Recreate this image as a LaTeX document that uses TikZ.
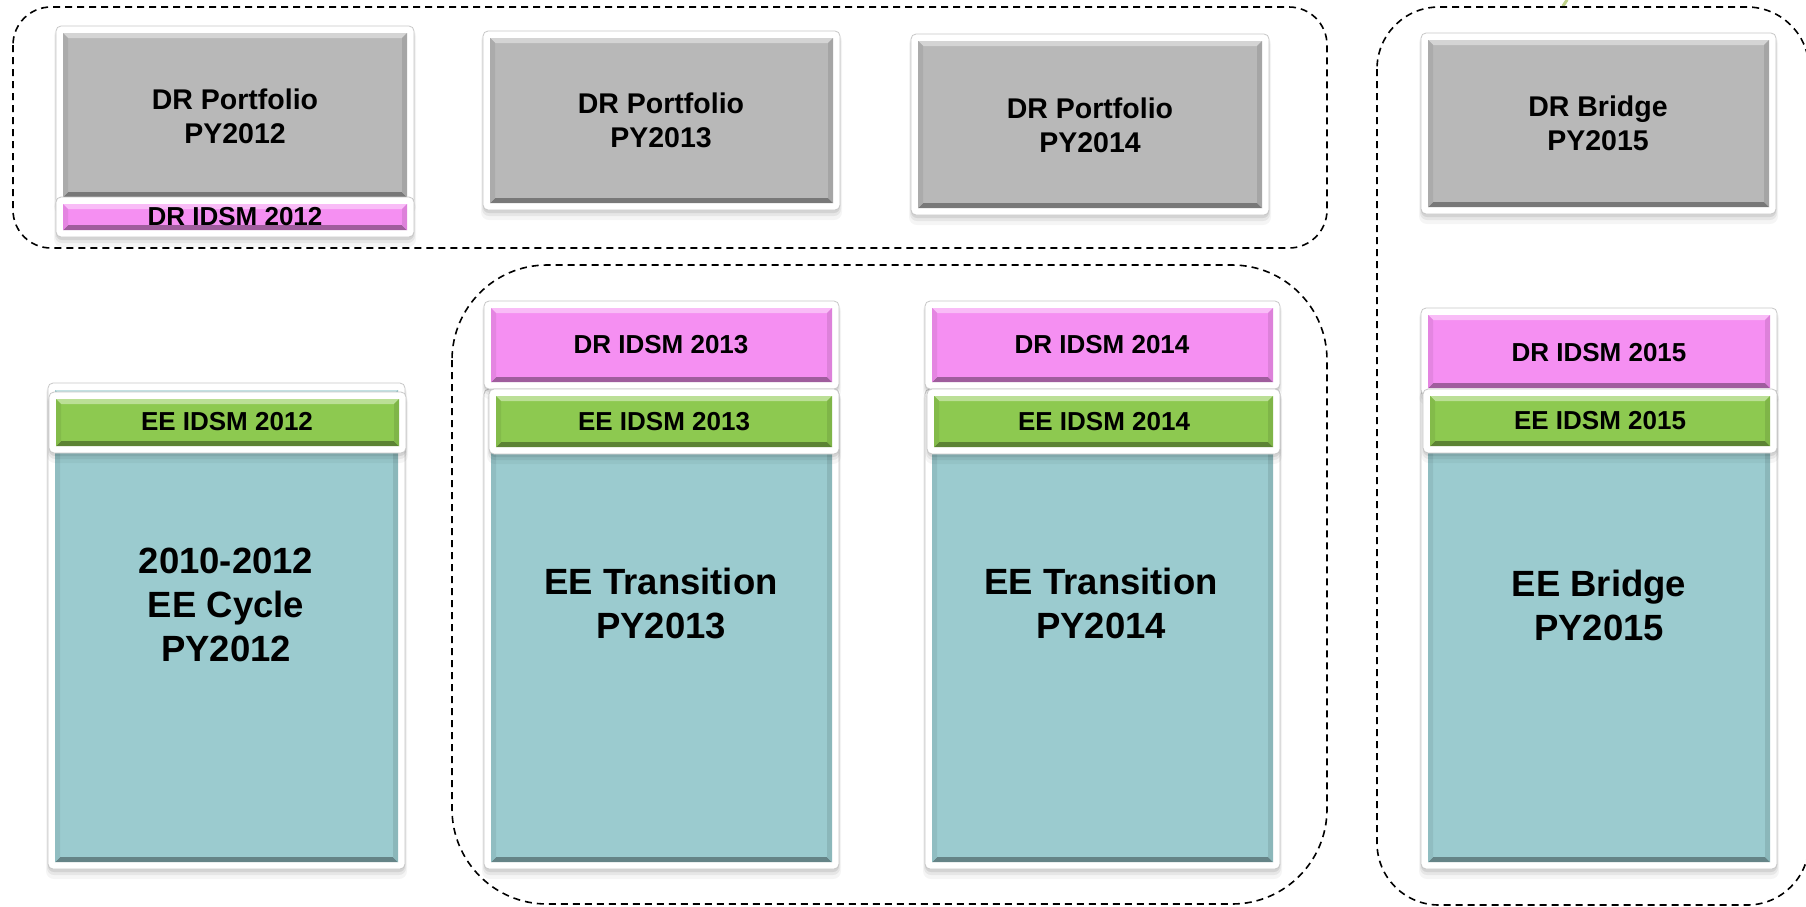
\documentclass[tikz,border=0pt]{standalone}
\usepackage{fontspec}
\setmainfont{Liberation Sans}
\definecolor{boxgray}{RGB}{184,184,184}
\definecolor{boxpink}{RGB}{245,143,242}
\definecolor{boxgreen}{RGB}{141,201,80}
\definecolor{boxteal}{RGB}{155,203,207}
\definecolor{leafgreen}{RGB}{150,180,60}
\tikzset{
  frame/.style={fill=white, draw=black!22, line width=0.8pt, rounded corners=5pt},
  inner/.style={draw=none, inner sep=0pt, outer sep=0pt},
  group/.style={draw=black, line width=1.6pt, dash pattern=on 7pt off 5pt},
  lbl/.style={font=\bfseries\fontsize{26}{31}\selectfont, align=center, inner sep=0pt},
  toplbl/.style={font=\bfseries\fontsize{28.5}{34}\selectfont, align=center, inner sep=0pt},
  biglbl/.style={font=\bfseries\fontsize{36.5}{44}\selectfont, align=center, inner sep=0pt}
}
\newcommand\bevbox[6]{%
  \fill[black,opacity=0.04,rounded corners=8pt] (#2-9,#3-5) rectangle (#4+9,#5+17);
  \fill[black,opacity=0.06,rounded corners=7pt] (#2-8,#3-4) rectangle (#4+8,#5+13);
  \fill[black,opacity=0.08,rounded corners=6pt] (#2-7,#3-3) rectangle (#4+7,#5+10);
  \draw[frame] (#2-7,#3-7) rectangle (#4+7,#5+7);
  \pgfmathsetmacro\bcx{(#2+#4)/2}%
  \pgfmathsetmacro\bcy{(#3+#5)/2}%
  \pgfmathsetmacro\bw{#4-#2}%
  \pgfmathsetmacro\bh{#5-#3}%
  \node[inner, fill=#6, minimum width=\bw pt, minimum height=\bh pt] (#1) at (\bcx,\bcy) {};
  \fill[#6!60!white] (#1.north west) -- (#1.north east) -- ([xshift=-5pt,yshift=-5pt]#1.north east) -- ([xshift=5pt,yshift=-5pt]#1.north west) -- cycle;
  \fill[#6!65!black] (#1.south west) -- (#1.south east) -- ([xshift=-5pt,yshift=5pt]#1.south east) -- ([xshift=5pt,yshift=5pt]#1.south west) -- cycle;
  \fill[#6!93!black] (#1.north west) -- ([xshift=5pt,yshift=-5pt]#1.north west) -- ([xshift=5pt,yshift=5pt]#1.south west) -- (#1.south west) -- cycle;
  \fill[#6!90!black] (#1.north east) -- ([xshift=-5pt,yshift=-5pt]#1.north east) -- ([xshift=-5pt,yshift=5pt]#1.south east) -- (#1.south east) -- cycle;
}
\begin{document}
\begin{tikzpicture}[x=1pt, y=-1pt]
\useasboundingbox (0,0) rectangle (1806,906);
\clip (0,0) rectangle (1806,906);
\fill[white] (0,0) rectangle (1806,906);

% small leaf fragment at the top edge
\draw[leafgreen, opacity=0.6, line width=3pt, line cap=round] (1567,0) -- (1563,6);

% dashed groups
\draw[group, rounded corners=38pt] (13,7) rectangle (1327,248);
\draw[group, rounded corners=95pt] (452,265) rectangle (1327,904);
\draw[group, rounded corners=62pt] (1377,7) rectangle (1809,905);

% top row
\bevbox{p12}{63}{33}{407}{197}{boxgray}
\bevbox{drp12}{63}{204}{407}{230}{boxpink}
\bevbox{p13}{490}{38}{833}{203}{boxgray}
\bevbox{p14}{918}{41}{1262}{208}{boxgray}
\bevbox{b15}{1428}{40}{1769}{207}{boxgray}

\node[toplbl] (tp12) at (235,116) {DR Portfolio\\PY2012};
\node[lbl] (tdrp12) at (235,217) {DR IDSM 2012};
\node[toplbl] (tp13) at (661,120) {DR Portfolio\\PY2013};
\node[toplbl] (tp14) at (1090,125) {DR Portfolio\\PY2014};
\node[toplbl] (tb15) at (1598,123) {DR Bridge\\PY2015};

% column 2012
\bevbox{t12}{55}{390}{398}{862}{boxteal}
\bevbox{g12}{56}{399}{399}{446}{boxgreen}
\node[lbl] (tg12) at (227,422) {EE IDSM 2012};
\node[biglbl] (tt12) at (226,605) {2010-2012\\EE Cycle\\PY2012};

% column 2013
\bevbox{t13}{491}{396}{832}{862}{boxteal}
\bevbox{d13}{491}{308}{832}{382}{boxpink}
\bevbox{g13}{496}{396}{832}{447}{boxgreen}
\node[lbl] (td13) at (661,345) {DR IDSM 2013};
\node[lbl] (tg13) at (664,422) {EE IDSM 2013};
\node[biglbl] (tt13) at (661,603) {EE Transition\\PY2013};

% column 2014
\bevbox{t14}{932}{396}{1273}{862}{boxteal}
\bevbox{d14}{932}{308}{1273}{382}{boxpink}
\bevbox{g14}{934}{396}{1273}{447}{boxgreen}
\node[lbl] (td14) at (1102,345) {DR IDSM 2014};
\node[lbl] (tg14) at (1104,422) {EE IDSM 2014};
\node[biglbl] (tt14) at (1101,603) {EE Transition\\PY2014};

% column 2015
\bevbox{t15}{1428}{396}{1770}{862}{boxteal}
\bevbox{d15}{1428}{315}{1770}{388}{boxpink}
\bevbox{g15}{1430}{396}{1770}{446}{boxgreen}
\node[lbl] (td15) at (1599,353) {DR IDSM 2015};
\node[lbl] (tg15) at (1600,421) {EE IDSM 2015};
\node[biglbl] (tt15) at (1599,605) {EE Bridge\\PY2015};
\end{tikzpicture}
\end{document}
